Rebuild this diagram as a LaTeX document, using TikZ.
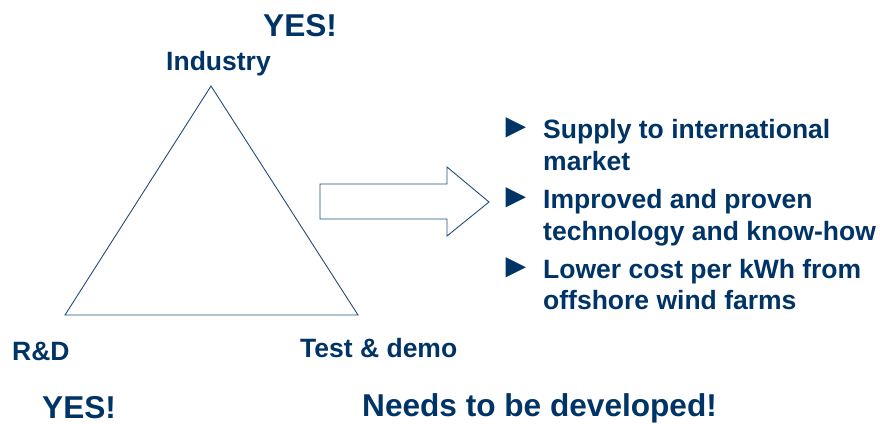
\documentclass[tikz,border=0pt]{standalone}
\usepackage{fontspec}
\setmainfont{Liberation Sans}
\definecolor{navy}{HTML}{003366}
\definecolor{edge}{HTML}{1F4E79}

\begin{document}
\begin{tikzpicture}[x=1pt,y=-1pt,
    lbl/.style={anchor=base west,inner sep=0pt,text=navy,font=\fontsize{26.5}{26.5}\selectfont\bfseries},
    big/.style={anchor=base west,inner sep=0pt,text=navy,font=\fontsize{31.6}{31.6}\selectfont\bfseries},
    bulletmark/.style={anchor=base west,inner sep=0pt,text=navy,font=\fontsize{34}{34}\selectfont}]
                \useasboundingbox (0,0) rectangle (880,423);

                \coordinate (top) at (211,86);
                \coordinate (left) at (65,315);
                \coordinate (right) at (358,315);
                \draw[edge,line width=0.9pt] (top)--(right)--(left)--cycle;

                \draw[edge,line width=0.9pt,line join=miter] (320,184)--(447,184)--(447,167)--(489,202)--(447,236)--(447,219)--(320,219)--cycle;

                \node[big] (yestop) at (263,36) {YES!};
                \node[lbl] (industry) at (166,70) {Industry};
                \node[lbl] (rd) at (12,360) {R\&D};
                \node[lbl] (test) at (300,357) {Test \& demo};
                \node[big] (yesbot) at (42,418) {YES!};
                \node[big] (develop) at (362,416) {Needs to be developed!};

                \node[bulletmark] (m1) at (499,137) {►};
                \node[lbl] (s1a) at (543,138) {Supply to international};
                \node[lbl] (s1b) at (543,170) {market};
                \node[bulletmark] (m2) at (499,207) {►};
                \node[lbl] (s2a) at (543,208) {Improved and proven};
                \node[lbl] (s2b) at (543,240) {technology and know-how};
                \node[bulletmark] (m3) at (499,277) {►};
                \node[lbl] (s3a) at (543,278) {Lower cost per kWh from};
                \node[lbl] (s3b) at (543,309) {offshore wind farms};
            \end{tikzpicture}
\end{document}
